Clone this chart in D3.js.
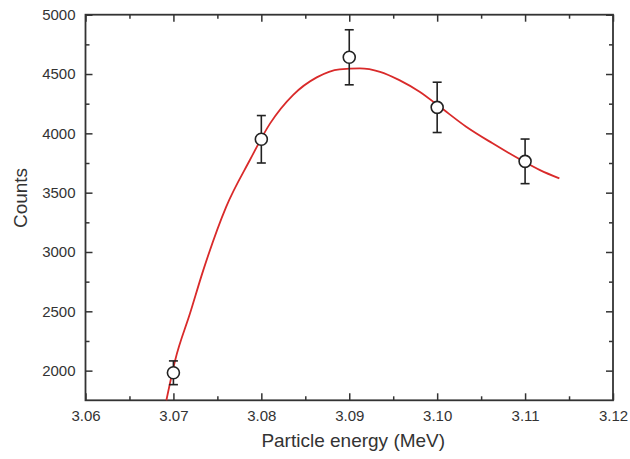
<!DOCTYPE html>
<html>
<head>
<meta charset="utf-8">
<script src="https://cdn.jsdelivr.net/npm/d3@7.9.0/dist/d3.min.js"></script>
<style>
  html, body { margin: 0; padding: 0; background: #fff; }
  svg { display: block; font-family: "Liberation Sans", Arial, sans-serif; }
</style>
</head>
<body>
<svg id="chart" width="630" height="459"></svg>
<script>
// measured points
const energy = [3.07, 3.08, 3.09, 3.10, 3.11];
const counts = [1982, 3950, 4641, 4219, 3764];
const errors = [100, 200, 232, 212, 188];

// fitted curve
const fitEnergy = [3.0692, 3.0702, 3.0719, 3.0734, 3.0760, 3.0787, 3.0810, 3.0836, 3.0863, 3.0889,
                   3.0912, 3.0935, 3.0957, 3.0980, 3.1003, 3.1033, 3.1063, 3.1094, 3.1117, 3.1139];
const fitCounts = [1750, 2088, 2485, 2847, 3381, 3775, 4084, 4323, 4472, 4540,
                   4548, 4519, 4449, 4351, 4224, 4056, 3916, 3781, 3690, 3620];

const xTicks = [3.06, 3.07, 3.08, 3.09, 3.10, 3.11, 3.12];
const yTicks = [2000, 2500, 3000, 3500, 4000, 4500, 5000];

const margin = { top: 14.7, right: 17, bottom: 58.7, left: 85.5 };
const W = 630, H = 459;
const innerW = W - margin.left - margin.right;
const innerH = H - margin.top - margin.bottom;
const ink = '#333';

const svg = d3.select('#chart');
const g = svg.append('g').attr('transform', `translate(${margin.left},${margin.top})`);

const x = d3.scaleLinear().domain([3.06, 3.12]).range([0, innerW]);
const y = d3.scaleLinear().domain([1750, 5000]).range([innerH, 0]);

const xMinor = d3.range(3.065, 3.12, 0.01);
const yMinor = d3.range(2250, 5000, 500);

/* ---------- axes (ticks pointing inward) ---------- */
function styleAxis(sel) {
  sel.select('.domain').remove();
  sel.selectAll('line').attr('stroke', ink).attr('stroke-width', 1.5);
  sel.selectAll('text').attr('fill', ink).attr('font-size', 15);
}

g.append('g').attr('transform', `translate(0,${innerH})`)
  .call(d3.axisBottom(x).tickValues(xTicks).tickFormat(d3.format('.2f')).tickSizeInner(-7).tickPadding(10))
  .call(styleAxis);
g.append('g').attr('transform', `translate(0,${innerH})`)
  .call(d3.axisBottom(x).tickValues(xMinor).tickFormat('').tickSizeInner(-4))
  .call(styleAxis);
g.append('g')
  .call(d3.axisTop(x).tickValues(xTicks).tickFormat('').tickSizeInner(-7))
  .call(styleAxis);
g.append('g')
  .call(d3.axisTop(x).tickValues(xMinor).tickFormat('').tickSizeInner(-4))
  .call(styleAxis);

g.append('g')
  .call(d3.axisLeft(y).tickValues(yTicks).tickFormat(d3.format('d')).tickSizeInner(-7).tickPadding(10))
  .call(styleAxis);
g.append('g')
  .call(d3.axisLeft(y).tickValues(yMinor).tickFormat('').tickSizeInner(-4))
  .call(styleAxis);
g.append('g').attr('transform', `translate(${innerW},0)`)
  .call(d3.axisRight(y).tickValues(yTicks).tickFormat('').tickSizeInner(-7))
  .call(styleAxis);
g.append('g').attr('transform', `translate(${innerW},0)`)
  .call(d3.axisRight(y).tickValues(yMinor).tickFormat('').tickSizeInner(-4))
  .call(styleAxis);

g.append('rect')
  .attr('width', innerW).attr('height', innerH)
  .attr('fill', 'none').attr('stroke', ink).attr('stroke-width', 1.8);

/* ---------- fit curve ---------- */
const fit = fitEnergy.map((e, i) => [e, fitCounts[i]]);
g.append('path')
  .datum(fit)
  .attr('fill', 'none')
  .attr('stroke', '#d92a2a')
  .attr('stroke-width', 1.8)
  .attr('d', d3.line().curve(d3.curveMonotoneX).x(d => x(d[0])).y(d => y(d[1])));

/* ---------- data points with error bars ---------- */
const pts = energy.map((e, i) => ({ e, c: counts[i], err: errors[i] }));
const pg = g.selectAll('.pt').data(pts).enter().append('g').attr('class', 'pt');

pg.append('line')
  .attr('x1', d => x(d.e)).attr('x2', d => x(d.e))
  .attr('y1', d => y(d.c + d.err)).attr('y2', d => y(d.c - d.err))
  .attr('stroke', '#222').attr('stroke-width', 1.6);
[1, -1].forEach(s => {
  pg.append('line')
    .attr('x1', d => x(d.e) - 4.5).attr('x2', d => x(d.e) + 4.5)
    .attr('y1', d => y(d.c + s * d.err)).attr('y2', d => y(d.c + s * d.err))
    .attr('stroke', '#222').attr('stroke-width', 1.6);
});
pg.append('circle')
  .attr('cx', d => x(d.e)).attr('cy', d => y(d.c)).attr('r', 6)
  .attr('fill', '#fff').attr('stroke', '#222').attr('stroke-width', 1.6);

/* ---------- titles ---------- */
svg.append('text')
  .attr('x', margin.left + innerW / 2 + 4).attr('y', 447)
  .attr('text-anchor', 'middle').attr('font-size', 19).attr('fill', ink)
  .text('Particle energy (MeV)');
svg.append('text')
  .attr('transform', 'translate(26.5,198) rotate(-90)')
  .attr('text-anchor', 'middle').attr('font-size', 19).attr('fill', ink)
  .text('Counts');
</script>
</body>
</html>
